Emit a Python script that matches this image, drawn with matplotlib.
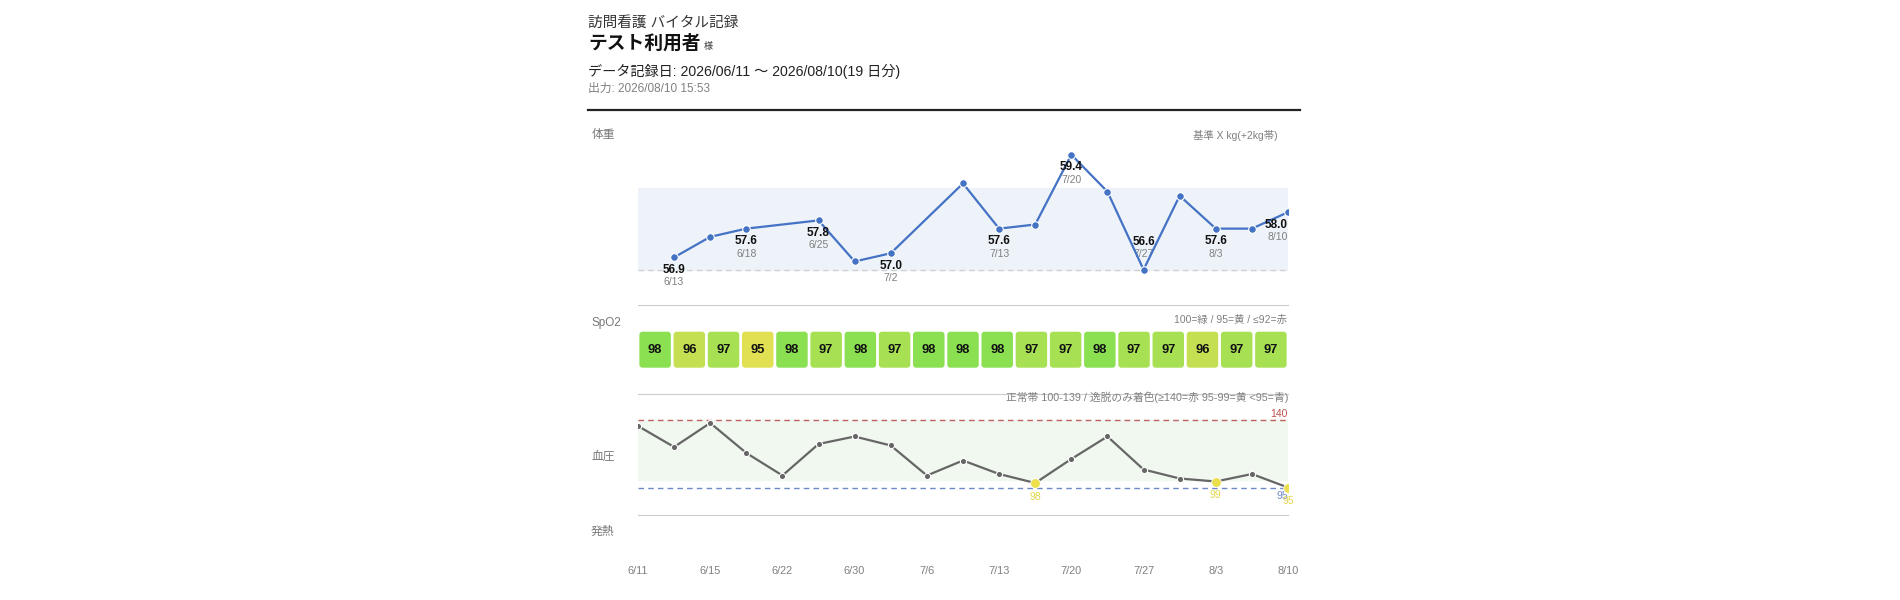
import matplotlib
matplotlib.use("Agg")
import matplotlib.pyplot as plt
from matplotlib.patches import FancyBboxPatch
from matplotlib.lines import Line2D
import colorsys

plt.rcParams['font.family'] = ['Liberation Sans', 'Noto Sans CJK JP', 'DejaVu Sans']

# data
dates = ["6/11", "6/13", "6/15", "6/18", "6/22", "6/25", "6/30", "7/2", "7/6", "7/9",
         "7/13", "7/16", "7/20", "7/23", "7/27", "7/30", "8/3", "8/6", "8/10"]
weight = [None, 56.9, 57.4, 57.6, None, 57.8, 56.8, 57.0, None, 58.7,
          57.6, 57.7, 59.4, 58.5, 56.6, 58.4, 57.6, 57.6, 58.0]
weightLabeled = [1, 3, 5, 7, 10, 12, 14, 16, 18]
weightLabelAbove = [14]
weightBase = 56.6
weightBand = 2.0
spo2 = [98, 96, 97, 95, 98, 97, 98, 97, 98, 98, 98, 97, 97, 98, 97, 97, 96, 97, 97]
bp = [136, 122, 138, 118, 103, 124, 129, 123, 103, 113, 104, 98, 114, 129, 107, 101, 99, 104, 95]
bpNormal = (100, 140)
bpHigh = 140
bpLow = 95
tickIdx = [0, 2, 4, 6, 8, 10, 12, 14, 16, 18]

W, H = 1900, 600
fig = plt.figure(figsize=(19, 6), dpi=100)


def px(x, y):
    return x / W, 1 - y / H


def addAx(left, top, right, bottom):
    ax = fig.add_axes([left / W, 1 - bottom / H, (right - left) / W, (bottom - top) / H])
    for s in ax.spines.values():
        s.set_visible(False)
    ax.set_xticks([])
    ax.set_yticks([])
    ax.patch.set_alpha(0)
    return ax


def spo2Color(v):
    h = (60 + (min(v, 100) - 95) / 5 * 60) / 360
    return colorsys.hls_to_rgb(h, 0.60, 0.70)


grey = "#808080"

# header
fig.text(*px(588, 23), "訪問看護 バイタル記録", fontsize=10.5, color="#333", va="center")
fig.text(*px(588, 43), "テスト利用者", fontsize=13.5, fontweight="bold", color="#111", va="center")
fig.text(*px(704, 46), "様", fontsize=6.5, color="#333", va="center")
fig.text(*px(588, 71), "データ記録日: 2026/06/11 〜 2026/08/10(19 日分)", fontsize=10.2, color="#222", va="center")
fig.text(*px(588, 89), "出力: 2026/08/10 15:53", fontsize=8.5, color=grey, va="center")
fig.add_artist(Line2D([588 / W, 1300 / W], [1 - 110 / H] * 2, color="#222", lw=1.6))

# weight
axW = addAx(638, 112, 1288, 305)
axW.set_xlim(0, 18)
axW.set_ylim(55.74, 60.44)
axW.spines["bottom"].set_visible(True)
axW.spines["bottom"].set_color("#cccccc")
axW.axhspan(weightBase, weightBase + weightBand, color="#eef3fa", zorder=0)
axW.axhline(weightBase, color="#d0d0d0", ls=(0, (4, 3)), lw=1, zorder=1)
wx = [i for i, v in enumerate(weight) if v is not None]
wy = [weight[i] for i in wx]
axW.plot(wx, wy, color="#4472c4", lw=1.6, marker="o", ms=5.5, mec="white", mew=0.8, zorder=3)
for i in weightLabeled:
    ha = "right" if i == len(dates) - 1 else "center"
    if i in weightLabelAbove:
        offV, offD = 20, 11.3
    else:
        offV, offD = -9, -18
    axW.annotate(f"{weight[i]:.1f}", (i, weight[i]), xytext=(0, offV), textcoords="offset points",
                 ha=ha, va="center", fontsize=8.5, fontweight="bold", color="#111", zorder=4)
    axW.annotate(dates[i], (i, weight[i]), xytext=(0, offD), textcoords="offset points",
                 ha=ha, va="center", fontsize=7.5, color=grey, zorder=2)
fig.text(*px(592, 135), "体重", fontsize=8.5, color="#777", va="center")
fig.text(*px(1278, 135), "基準 X kg(+2kg帯)", fontsize=7.5, color=grey, va="center", ha="right")

# SpO2
axS = addAx(638, 305, 1288, 394)
axS.set_xlim(0, len(spo2))
axS.set_ylim(0, 89)
axS.spines["bottom"].set_visible(True)
axS.spines["bottom"].set_color("#cccccc")
aspect = (1 / 89) / (len(spo2) / 650)
for i, v in enumerate(spo2):
    box = FancyBboxPatch((i + 0.04, 26.3), 0.92, 36,
                         boxstyle="round,pad=0,rounding_size=0.09",
                         mutation_aspect=aspect * 89, fc=spo2Color(v), ec="none")
    axS.add_patch(box)
    axS.text(i + 0.5, 44.3, str(v), ha="center", va="center", fontsize=9.3,
             fontweight="bold", color="#111")
fig.text(*px(592, 323), "SpO2", fontsize=8.5, color="#777", va="center")
fig.text(*px(1287, 320), "100=緑 / 95=黄 / ≤92=赤", fontsize=7.5, color=grey, va="center", ha="right")

# blood pressure
axB = addAx(638, 394, 1288, 515)
axB.set_xlim(0, 18)
axB.set_ylim(76.67, 157.33)
axB.spines["bottom"].set_visible(True)
axB.spines["bottom"].set_color("#cccccc")
axB.axhspan(bpNormal[0], bpNormal[1], color="#f0f8ef", zorder=0)
axB.axhline(bpHigh, color="#c06060", ls=(0, (4, 3)), lw=1, zorder=1)
axB.axhline(bpLow, color="#6f88c8", ls=(0, (4, 3)), lw=1, zorder=1)
axB.plot(range(len(bp)), bp, color="#666666", lw=1.6, marker="o", ms=4.5, mec="white",
         mew=0.8, zorder=3)
for i, v in enumerate(bp):
    if bpLow <= v < bpNormal[0]:
        axB.plot(i, v, "o", ms=7, color="#ebdf4e", mec="white", mew=0.6, zorder=4)
        axB.annotate(str(v), (i, v), xytext=(0, -10), textcoords="offset points",
                     ha="center", va="center", fontsize=7.5, color="#e3d64a", zorder=4)
axB.annotate(str(bpHigh), (18, bpHigh), xytext=(0, 4), textcoords="offset points",
             ha="right", va="center", fontsize=7.5, color="#c05050")
axB.annotate(str(bpLow), (18, bpLow), xytext=(0, -6), textcoords="offset points",
             ha="right", va="center", fontsize=7.5, color="#6f88c8", zorder=2)
fig.text(*px(591, 457), "血圧", fontsize=8.5, color="#777", va="center")
fig.text(*px(1288, 397), "正常帯 100-139 / 逸脱のみ着色(≥140=赤 95-99=黄 <95=青)",
         fontsize=7.75, color=grey, va="center", ha="right")

# fever + date axis
axF = addAx(638, 515, 1288, 562)
axF.set_xlim(0, 18)
axF.set_xticks(tickIdx)
axF.set_xticklabels([dates[i] for i in tickIdx], fontsize=7.9, color=grey)
axF.tick_params(axis="x", length=0, pad=3)
fig.text(*px(591, 532), "発熱", fontsize=8.5, color="#777", va="center")

fig.savefig("out.png", dpi=100, facecolor="white")
